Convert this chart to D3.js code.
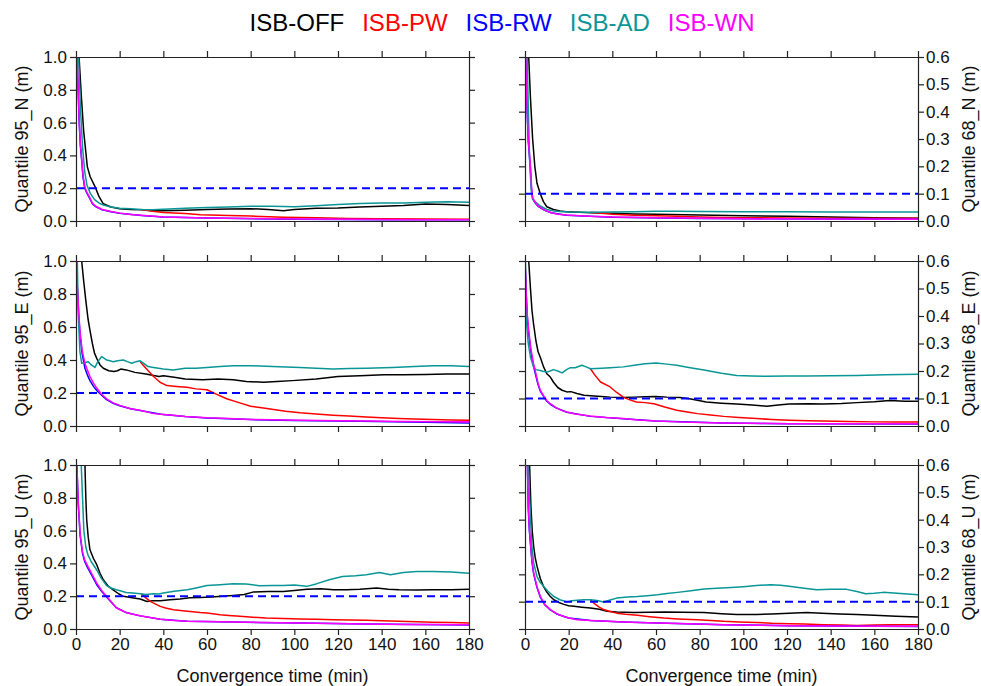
<!DOCTYPE html>
<html lang="en">
<head>
<meta charset="UTF-8">
<script src="https://d3js.org/d3.v7.min.js"></script>
<title>Quantiles vs convergence time</title>
<style>
  body { margin: 0; background: #fff; }
  svg { display: block; font-family: "Liberation Sans", Arial, sans-serif; }
</style>
</head>
<body>
<svg id="chart" width="981" height="686"></svg>
<script>
/* ---------------- data: [time (min), value (m)] ---------------- */

// Quantile 95 N
const n95_off = [[1.4,1.0],[2.5,0.75],[3.5,0.55],[4.5,0.42],[5.2,0.33],[6.5,0.27],[8.7,0.21],[10.5,0.15],[12.5,0.105],[16,0.085],[20,0.075],[25,0.07],[30,0.068],[35,0.062],[40,0.062],[50,0.065],[60,0.07],[70,0.073],[80,0.075],[88,0.07],[95,0.063],[100,0.07],[110,0.078],[120,0.08],[130,0.085],[140,0.09],[150,0.095],[160,0.103],[170,0.1],[180,0.095]];
const n95_pw  = [[30,0.07],[35,0.06],[40,0.052],[50,0.045],[57,0.038],[70,0.033],[80,0.03],[95,0.023],[110,0.02],[125,0.016],[140,0.014],[160,0.012],[180,0.01]];
const n95_rw  = [[0.5,1.0],[1,0.79],[1.5,0.59],[2,0.46],[2.6,0.37],[3.2,0.27],[4,0.2],[4.8,0.175],[6,0.145],[7.5,0.105],[9,0.088],[12,0.068],[16,0.056],[20,0.047],[30,0.034],[40,0.024],[60,0.018],[100,0.011],[140,0.008],[180,0.007]];
const n95_ad  = [[1.2,1.0],[2,0.7],[3,0.45],[4,0.3],[5,0.22],[6.5,0.17],[8.5,0.13],[10.5,0.11],[12.5,0.097],[16,0.085],[20,0.078],[25,0.075],[30,0.07],[35,0.068],[40,0.072],[50,0.078],[60,0.083],[70,0.086],[80,0.09],[90,0.09],[100,0.087],[110,0.093],[120,0.1],[130,0.107],[140,0.11],[150,0.11],[160,0.115],[170,0.117],[180,0.115]];
const n95_wn  = [[0.5,1.0],[1,0.8],[1.5,0.6],[2,0.47],[2.6,0.38],[3.2,0.28],[4,0.21],[4.8,0.18],[6,0.15],[7.5,0.11],[9,0.09],[12,0.07],[16,0.058],[20,0.048],[25,0.04],[30,0.035],[40,0.025],[50,0.022],[60,0.019],[80,0.015],[100,0.012],[120,0.01],[140,0.009],[160,0.008],[180,0.008]];

// Quantile 68 N
const n68_off = [[1.7,0.6],[2.5,0.45],[3.5,0.3],[4.5,0.2],[5.5,0.138],[7,0.1],[8.5,0.07],[10,0.052],[13,0.042],[16,0.037],[19,0.034],[25,0.032],[30,0.03],[40,0.028],[50,0.026],[60,0.025],[80,0.022],[100,0.019],[120,0.017],[140,0.015],[160,0.012],[180,0.01]];
const n68_pw  = [[30,0.032],[40,0.025],[50,0.021],[60,0.019],[70,0.017],[80,0.015],[90,0.013],[100,0.012],[120,0.011],[140,0.01],[160,0.01],[180,0.01]];
const n68_rw  = [[0.3,0.6],[0.9,0.42],[1.5,0.29],[2.5,0.19],[3,0.115],[3.5,0.082],[4.5,0.068],[6,0.054],[9,0.039],[12,0.03],[19,0.021],[40,0.014],[80,0.009],[140,0.007],[180,0.006]];
const n68_ad  = [[1,0.6],[1.5,0.42],[2.2,0.2],[3,0.1],[3.5,0.08],[5,0.068],[7,0.055],[10,0.042],[13,0.037],[16,0.035],[20,0.033],[30,0.032],[40,0.033],[50,0.034],[60,0.036],[70,0.036],[80,0.035],[100,0.034],[120,0.034],[140,0.033],[160,0.033],[180,0.033]];
const n68_wn  = [[0.3,0.6],[0.9,0.43],[1.5,0.3],[2.5,0.2],[3,0.12],[3.5,0.085],[4.5,0.07],[6,0.055],[9,0.04],[12,0.03],[15,0.025],[19,0.022],[30,0.017],[40,0.015],[60,0.012],[80,0.01],[100,0.008],[140,0.007],[180,0.006]];

// Quantile 95 E
const e95_off = [[2.6,1.0],[3.5,0.88],[4.5,0.76],[5.5,0.65],[6.4,0.58],[7.5,0.5],[8.5,0.44],[9.5,0.41],[11,0.37],[12.5,0.35],[15,0.335],[17.4,0.33],[19,0.335],[20.5,0.345],[23,0.34],[27,0.325],[32,0.315],[38,0.3],[40,0.305],[45,0.295],[50,0.285],[58,0.28],[65,0.285],[72,0.28],[78,0.27],[86,0.265],[92,0.27],[99,0.275],[110,0.285],[120,0.3],[130,0.305],[141,0.31],[150,0.31],[160,0.312],[170,0.315],[180,0.315]];
const e95_pw  = [[29.4,0.39],[32,0.35],[35.5,0.3],[38.5,0.265],[41.6,0.245],[46,0.24],[50.8,0.235],[55,0.225],[60,0.22],[64,0.195],[69,0.165],[75,0.14],[80,0.12],[85,0.11],[90.5,0.1],[96,0.09],[102.6,0.08],[110,0.072],[117.8,0.065],[125,0.06],[133,0.055],[140,0.05],[148,0.045],[155,0.042],[163.5,0.04],[172,0.037],[180,0.035]];
const e95_rw  = [[0,1.0],[0.8,0.79],[1.3,0.66],[1.8,0.56],[2.8,0.44],[4.1,0.35],[5.2,0.31],[6.4,0.275],[8,0.24],[9.5,0.215],[11.5,0.19],[14,0.16],[17,0.138],[20,0.123],[25,0.104],[30,0.092],[40,0.069],[50,0.057],[60,0.049],[80,0.039],[100,0.034],[130,0.029],[160,0.022],[180,0.018]];
const e95_ad  = [[0.6,1.0],[1.05,0.67],[1.8,0.45],[2.6,0.38],[4,0.385],[5.6,0.39],[7,0.37],[8.7,0.355],[10,0.39],[11.7,0.42],[13,0.41],[14,0.4],[15.5,0.395],[17,0.39],[19,0.395],[21.7,0.4],[23.5,0.39],[25.6,0.38],[27.5,0.39],[29.4,0.395],[31,0.38],[33,0.36],[35.5,0.355],[40,0.345],[44.6,0.34],[50,0.35],[55,0.35],[60,0.355],[66,0.36],[72,0.365],[81,0.365],[90,0.36],[102.6,0.355],[110,0.35],[117.8,0.345],[125,0.348],[133,0.35],[145,0.355],[155,0.36],[163.5,0.365],[172,0.365],[180,0.36]];
const e95_wn  = [[0,1.0],[0.8,0.8],[1.3,0.68],[1.8,0.58],[2.8,0.46],[4.1,0.38],[5.2,0.34],[6.4,0.3],[8,0.26],[9.5,0.23],[11.5,0.195],[14,0.165],[17,0.14],[20,0.125],[25,0.105],[29.4,0.095],[35.5,0.075],[40,0.07],[44.6,0.065],[50,0.058],[60,0.05],[70,0.045],[80,0.04],[90,0.038],[102.6,0.035],[120,0.032],[133,0.03],[150,0.028],[165,0.026],[180,0.025]];

// Quantile 68 E
const e68_off = [[1.7,0.6],[2.5,0.5],[3.2,0.42],[3.9,0.372],[5,0.31],[6,0.27],[7,0.25],[8.5,0.215],[10,0.19],[11.6,0.178],[13,0.16],[15,0.14],[17,0.13],[19.2,0.124],[21,0.125],[23.8,0.118],[27,0.112],[30,0.11],[35,0.107],[39,0.105],[45,0.104],[50,0.105],[55,0.106],[60,0.107],[65,0.105],[71,0.104],[76,0.098],[83,0.087],[90,0.083],[97,0.08],[104,0.076],[110.7,0.072],[116,0.076],[121,0.08],[130,0.081],[136.5,0.08],[145,0.082],[152,0.085],[160,0.088],[167,0.093],[174,0.09],[180,0.09]];
const e68_pw  = [[30,0.208],[32,0.185],[34.6,0.16],[39,0.142],[42,0.122],[45,0.105],[48,0.095],[51,0.087],[55,0.085],[59,0.081],[64,0.069],[69.5,0.057],[75,0.05],[79,0.045],[85,0.04],[91,0.035],[98,0.031],[106,0.027],[113,0.024],[121,0.021],[130,0.019],[136.5,0.018],[148,0.016],[160,0.015],[170,0.015],[180,0.015]];
const e68_rw  = [[0,0.6],[0.6,0.47],[1.1,0.39],[1.7,0.335],[2.7,0.27],[3.9,0.218],[5,0.182],[6,0.15],[7,0.127],[8.5,0.108],[10,0.09],[11.6,0.079],[14,0.067],[19.2,0.05],[30,0.035],[45,0.026],[60,0.018],[91,0.011],[121,0.008],[180,0.007]];
const e68_ad  = [[0.2,0.6],[0.6,0.384],[1.5,0.3],[2.5,0.25],[3.9,0.215],[5,0.205],[7,0.202],[8.5,0.198],[10,0.196],[11.5,0.2],[13,0.205],[15,0.2],[17,0.193],[19,0.205],[20.8,0.212],[23,0.212],[26,0.221],[28,0.215],[30,0.208],[35,0.21],[39,0.212],[45,0.215],[50,0.221],[55,0.226],[60,0.229],[65,0.225],[69.5,0.221],[75,0.213],[82,0.204],[90,0.192],[97,0.184],[104,0.182],[110.7,0.181],[120,0.182],[129,0.182],[140,0.183],[152,0.184],[165,0.186],[180,0.188]];
const e68_wn  = [[0,0.6],[0.6,0.48],[1.1,0.4],[1.7,0.348],[2.7,0.28],[3.9,0.227],[5,0.19],[6,0.155],[7,0.13],[8.5,0.11],[10,0.092],[11.6,0.081],[14,0.068],[17,0.056],[19.2,0.051],[23,0.044],[30,0.036],[37,0.031],[45,0.027],[52,0.022],[60,0.018],[70,0.015],[80,0.013],[91,0.011],[105,0.01],[121,0.008],[150,0.008],[180,0.008]];

// Quantile 95 U
const u95_off = [[4.1,1.0],[4.5,0.8],[4.9,0.666],[5.6,0.56],[6.4,0.483],[8,0.43],[9.5,0.392],[11,0.34],[12.5,0.3],[14.5,0.265],[17,0.239],[19.5,0.215],[21.7,0.199],[25,0.192],[29.4,0.183],[32.5,0.168],[35,0.172],[38.6,0.172],[43,0.178],[47.7,0.183],[52,0.19],[56.9,0.192],[62,0.195],[67,0.2],[72,0.205],[77,0.21],[81,0.225],[88,0.228],[95,0.229],[100,0.235],[105.7,0.243],[112,0.245],[118,0.239],[124,0.24],[130,0.243],[137.7,0.25],[143,0.243],[148,0.239],[156,0.238],[163.5,0.239],[172,0.24],[180,0.243]];
const u95_pw  = [[30,0.215],[32,0.19],[34,0.168],[36,0.155],[38.6,0.138],[41,0.128],[44.6,0.118],[50,0.11],[56.9,0.101],[60,0.098],[66,0.087],[70,0.082],[75,0.077],[81,0.072],[87,0.067],[95,0.064],[102.6,0.061],[110,0.059],[118,0.057],[125,0.055],[133,0.053],[140,0.05],[148,0.047],[156,0.044],[163.5,0.041],[172,0.039],[180,0.037]];
const u95_rw  = [[0.4,1.0],[1,0.77],[1.9,0.57],[3,0.46],[4,0.41],[5.5,0.37],[7.5,0.32],[9.5,0.27],[12,0.225],[14,0.195],[16.5,0.158],[18.5,0.13],[21,0.114],[23,0.1],[29.4,0.08],[38.6,0.06],[51,0.047],[72,0.042],[102.6,0.036],[133,0.03],[180,0.025]];
const u95_ad  = [[2.4,1.0],[3,0.8],[3.6,0.6],[4.5,0.5],[5.5,0.45],[7,0.41],[9.5,0.36],[11.5,0.31],[14,0.265],[16,0.25],[18.5,0.239],[21,0.23],[23,0.223],[26,0.22],[29.4,0.215],[32,0.21],[35.5,0.215],[38,0.213],[40,0.219],[45,0.23],[51,0.239],[55,0.25],[60,0.265],[66,0.27],[72,0.276],[78,0.275],[84,0.264],[90,0.266],[95,0.266],[100,0.268],[105.7,0.26],[110,0.275],[116,0.3],[122,0.32],[128,0.325],[133,0.331],[139,0.345],[144,0.331],[150,0.345],[156,0.351],[163.5,0.35],[172,0.348],[180,0.34]];
const u95_wn  = [[0.4,1.0],[1,0.78],[1.9,0.58],[3,0.47],[4,0.42],[5.5,0.38],[7.5,0.33],[9.5,0.28],[12,0.23],[14,0.2],[16.5,0.16],[18.5,0.128],[21,0.113],[23,0.1],[26,0.09],[29.4,0.081],[34,0.07],[38.6,0.06],[45,0.052],[51,0.047],[60,0.045],[72,0.043],[85,0.04],[102.6,0.037],[118,0.033],[133,0.03],[150,0.028],[165,0.027],[180,0.026]];

// Quantile 68 U
const u68_off = [[2.1,0.6],[2.7,0.45],[3.3,0.36],[4,0.3],[4.7,0.26],[5.5,0.23],[7,0.185],[8.5,0.155],[10,0.135],[11.5,0.12],[13.2,0.107],[15.5,0.097],[17.8,0.09],[20,0.085],[22.4,0.083],[26,0.08],[30,0.077],[34,0.072],[37.6,0.065],[42,0.062],[50,0.06],[57,0.061],[63.6,0.062],[72,0.061],[82,0.06],[90,0.056],[97,0.053],[106,0.053],[113,0.055],[121,0.058],[129,0.06],[136,0.058],[144,0.055],[152,0.053],[160,0.05],[170,0.047],[180,0.044]];
const u68_pw  = [[30,0.107],[31.5,0.095],[34,0.08],[36,0.071],[39,0.064],[42,0.058],[46,0.054],[51.5,0.05],[57,0.045],[63.6,0.04],[70,0.037],[79,0.034],[85,0.031],[91,0.028],[98,0.026],[106,0.024],[113,0.021],[121,0.019],[128,0.018],[136.5,0.016],[145,0.015],[152,0.013],[160,0.015],[167,0.016],[175,0.016],[180,0.016]];
const u68_rw  = [[1.1,0.6],[1.5,0.44],[2,0.36],[2.4,0.32],[3.2,0.245],[4,0.2],[5.5,0.152],[7,0.117],[9,0.089],[11.6,0.07],[14.5,0.055],[20,0.04],[30,0.031],[45,0.026],[60.7,0.022],[91,0.016],[121,0.012],[180,0.009]];
const u68_ad  = [[1.5,0.6],[2,0.5],[2.4,0.42],[3.2,0.3],[4,0.24],[5.5,0.192],[7,0.17],[8.5,0.156],[10.5,0.138],[13.2,0.119],[16,0.107],[19.3,0.099],[21.5,0.103],[23.9,0.105],[27,0.107],[30,0.107],[33,0.104],[36,0.099],[39,0.106],[42,0.113],[47,0.117],[51.5,0.119],[56,0.122],[60.7,0.125],[65,0.13],[69.9,0.134],[76,0.14],[82,0.146],[88,0.149],[94.4,0.152],[100,0.155],[106,0.159],[112.6,0.162],[117,0.16],[121,0.156],[127,0.15],[133.6,0.144],[140,0.145],[147.3,0.145],[152,0.137],[156,0.129],[160,0.131],[164,0.134],[172,0.13],[180,0.125]];
const u68_wn  = [[1.1,0.6],[1.5,0.45],[2,0.37],[2.4,0.326],[3.2,0.25],[4,0.204],[5.5,0.155],[7,0.119],[9,0.09],[11.6,0.071],[14.5,0.056],[17.8,0.046],[20,0.04],[23.9,0.034],[30,0.031],[37.6,0.028],[45,0.026],[52,0.024],[60.7,0.022],[75,0.019],[91,0.016],[105,0.014],[121,0.012],[140,0.011],[160,0.01],[180,0.01]];

// legend, thresholds, ticks
const seriesNames  = ["ISB-OFF", "ISB-PW", "ISB-RW", "ISB-AD", "ISB-WN"];
const seriesColors = ["#000000", "#ff0000", "#0000ff", "#0a9696", "#ff00ff"];
const xTicks   = [0, 20, 40, 60, 80, 100, 120, 140, 160, 180];
const yTicks95 = [0, 0.2, 0.4, 0.6, 0.8, 1.0];
const yTicks68 = [0, 0.1, 0.2, 0.3, 0.4, 0.5, 0.6];

/* ---------------- layout ---------------- */
const cols = [[76, 469], [525, 918]];
const rows = [[57, 221], [261, 426], [465, 629]];

const panels = [
  {id: "n95", col: 0, row: 0, ticks: yTicks95, limit: 0.2, title: "Quantile 95_N (m)", lines: [n95_off, n95_pw, n95_rw, n95_ad, n95_wn]},
  {id: "n68", col: 1, row: 0, ticks: yTicks68, limit: 0.1, title: "Quantile 68_N (m)", lines: [n68_off, n68_pw, n68_rw, n68_ad, n68_wn]},
  {id: "e95", col: 0, row: 1, ticks: yTicks95, limit: 0.2, title: "Quantile 95_E (m)", lines: [e95_off, e95_pw, e95_rw, e95_ad, e95_wn]},
  {id: "e68", col: 1, row: 1, ticks: yTicks68, limit: 0.1, title: "Quantile 68_E (m)", lines: [e68_off, e68_pw, e68_rw, e68_ad, e68_wn]},
  {id: "u95", col: 0, row: 2, ticks: yTicks95, limit: 0.2, title: "Quantile 95_U (m)", lines: [u95_off, u95_pw, u95_rw, u95_ad, u95_wn]},
  {id: "u68", col: 1, row: 2, ticks: yTicks68, limit: 0.1, title: "Quantile 68_U (m)", lines: [u68_off, u68_pw, u68_rw, u68_ad, u68_wn]}
];

const svg = d3.select("#chart");
const defs = svg.append("defs");
const fmt = d3.format(".1f");

function styleAxis(g) {
  g.attr("font-size", 17).attr("font-family", "'Liberation Sans', Arial, sans-serif");
  g.selectAll("path, line").attr("stroke", "#222").attr("stroke-width", 1.2);
  g.selectAll("text").attr("fill", "#111");
}

panels.forEach(p => {
  const [x0, x1] = cols[p.col];
  const [y0, y1] = rows[p.row];
  const ymax = d3.max(p.ticks);

  const x = d3.scaleLinear().domain([0, 180]).range([x0, x1]);
  const y = d3.scaleLinear().domain([0, ymax]).range([y1, y0]);

  defs.append("clipPath").attr("id", "clip-" + p.id)
    .append("rect").attr("x", x0).attr("y", y0).attr("width", x1 - x0).attr("height", y1 - y0);

  const g = svg.append("g");

  // curves
  const line = d3.line().x(d => x(d[0])).y(d => y(d[1]));
  const plot = g.append("g").attr("clip-path", "url(#clip-" + p.id + ")");
  p.lines.forEach((data, i) => {
    plot.append("path")
      .datum(data)
      .attr("d", line)
      .attr("fill", "none")
      .attr("stroke", seriesColors[i])
      .attr("stroke-width", 1.5)
      .attr("stroke-linejoin", "round");
  });

  // threshold
  plot.append("line")
    .attr("x1", x(0)).attr("x2", x(180))
    .attr("y1", y(p.limit)).attr("y2", y(p.limit))
    .attr("stroke", "#0000ff")
    .attr("stroke-width", 2)
    .attr("stroke-dasharray", "8,5");

  // axes
  const bottomLabels = p.row === 2;
  g.append("g").attr("transform", `translate(0,${y1})`)
    .call(d3.axisBottom(x).tickValues(xTicks).tickSize(6).tickSizeOuter(0).tickPadding(3)
      .tickFormat(bottomLabels ? d3.format("d") : ""))
    .call(styleAxis);
  g.append("g").attr("transform", `translate(0,${y0})`)
    .call(d3.axisTop(x).tickValues(xTicks).tickSize(6).tickSizeOuter(0).tickFormat(""))
    .call(styleAxis);
  g.append("g").attr("transform", `translate(${x0},0)`)
    .call(d3.axisLeft(y).tickValues(p.ticks).tickSize(6).tickSizeOuter(0).tickPadding(3)
      .tickFormat(p.col === 0 ? fmt : ""))
    .call(styleAxis);
  g.append("g").attr("transform", `translate(${x1},0)`)
    .call(d3.axisRight(y).tickValues(p.ticks).tickSize(6).tickSizeOuter(0).tickPadding(2)
      .tickFormat(p.col === 1 ? fmt : ""))
    .call(styleAxis);

  // y title
  const tx = p.col === 0 ? 28 : 975;
  g.append("text")
    .attr("transform", `translate(${tx},${(y0 + y1) / 2}) rotate(-90)`)
    .attr("text-anchor", "middle")
    .attr("font-size", 18)
    .attr("fill", "#111")
    .text(p.title);

  if (bottomLabels) {
    g.append("text")
      .attr("x", (x0 + x1) / 2).attr("y", 682)
      .attr("text-anchor", "middle")
      .attr("font-size", 18)
      .attr("fill", "#111")
      .text("Convergence time (min)");
  }
});

/* ---------------- legend ---------------- */
const legend = svg.append("g").attr("font-size", 24);
const items = legend.selectAll("text")
  .data(seriesNames)
  .enter()
  .append("text")
  .attr("y", 31)
  .attr("fill", (d, i) => seriesColors[i])
  .text(d => d);

const gap = 18;
const widths = [];
items.each(function () { widths.push(this.getComputedTextLength()); });
const total = d3.sum(widths) + gap * (widths.length - 1);
let cursor = 502 - total / 2;
items.attr("x", (d, i) => {
  const pos = cursor;
  cursor += widths[i] + gap;
  return pos;
});
</script>
</body>
</html>
